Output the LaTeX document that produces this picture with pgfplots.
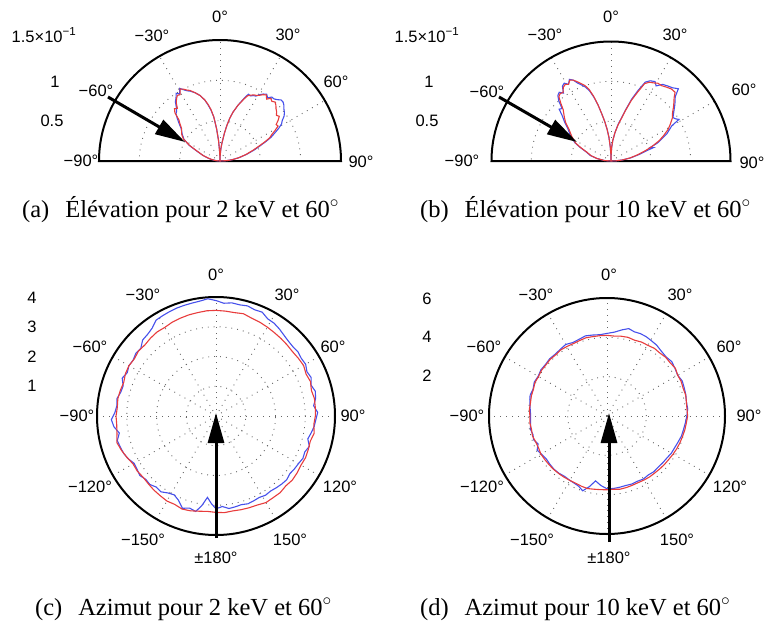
\documentclass[border=0pt]{standalone}
\usepackage{fontspec}
\setmainfont{Liberation Serif}
\newfontfamily\labfont{Liberation Sans}
\usepackage{pgfplots}
\pgfplotsset{compat=1.18}
\usetikzlibrary{arrows.meta}
\definecolor{cred}{RGB}{232,60,60}
\definecolor{cblue}{RGB}{70,80,235}
\newcommand\tickfont{\labfont\fontsize{16.5}{18}\selectfont}
\newcommand\capfont{\fontsize{24.5}{28}\selectfont}
\newcommand\tl[3]{\node[font=\tickfont,inner sep=0pt] at (#1,-#2) {#3};}
\tikzset{gridl/.style={black!60,line width=0.9pt,dash pattern=on 0.9pt off 5pt},
  bigarrow/.style={line width=3pt,-{Triangle[length=30pt,width=16pt]}}}
\pgfplotsset{polarline/.style={line width=1.1pt},
  polax/.style={anchor=center,hide axis,clip=false,xmin=-#1,xmax=#1,ymin=-#1,ymax=#1}}
\pgfkeys{/pgfplots/table/pol/.style={x expr={\thisrow{r}*sin(\thisrow{t})}, y expr={\thisrow{r}*cos(\thisrow{t})}}}
\begin{document}
\begin{tikzpicture}[x=1pt,y=1pt]
\useasboundingbox (0,0) rectangle (764,-621);
% ================= (a) =================
\begin{scope}[shift={(220,-161)}]
  \foreach \rr in {40.33,80.67} {\draw[gridl] (\rr,0) arc[start angle=0,end angle=180,radius=\rr];}
  \foreach \a in {-60,-30,0,30,60} {\draw[gridl] (0,0) -- ({121*sin(\a)},{121*cos(\a)});}
  \draw[black,line width=2pt] (-121,0) -- (121,0) arc[start angle=0,end angle=180,radius=121] -- cycle;
\end{scope}
\begin{axis}[at={(220pt,-161pt)},x=80.667pt,y=80.667pt,polax=1.5]
\addplot[cblue,polarline] table[pol] {
t r
-90 0
-85 0.05
-80 0.11
-76 0.16
-72 0.22
-67 0.31
-63 0.43
-59 0.52
-55 0.57
-50 0.63
-47 0.70
-45 0.75
-43 0.80
-41 0.82
-39 0.86
-37 0.92
-35 0.95
-33 1.00
-31 0.97
-29 1.03
-27 0.99
-25 0.96
-23 0.94
-20 0.90
-17 0.85
-14 0.78
-12 0.71
-10 0.64
-8 0.55
-6 0.40
-4 0.25
-2 0.10
0 0.0
2 0.08
4 0.15
6 0.22
9 0.35
11 0.45
13 0.55
15 0.63
18 0.73
21 0.83
23 0.90
25 0.89
27 0.91
29 0.92
31 0.96
33 0.99
35 1.01
37 0.98
39 1.02
41 1.02
43 1.04
45 1.07
47 1.07
49 1.05
51 1.02
53 1.00
55 0.97
57 0.92
59 0.89
61 0.83
63 0.76
65 0.70
67 0.62
69 0.54
72 0.45
76 0.34
80 0.24
84 0.15
87 0.08
90 0
};
\addplot[cred,polarline] table[pol] {
t r
-90 0
-85 0.05
-80 0.10
-76 0.15
-72 0.22
-67 0.30
-63 0.42
-59 0.53
-55 0.58
-50 0.62
-47 0.68
-45 0.72
-43 0.82
-41 0.86
-39 0.84
-37 0.90
-35 0.94
-33 0.97
-31 0.96
-29 1.02
-27 1.00
-25 0.97
-23 0.95
-20 0.90
-17 0.85
-14 0.78
-12 0.72
-10 0.65
-8 0.55
-6 0.40
-4 0.25
-2 0.10
0 0.0
2 0.08
4 0.15
6 0.22
9 0.35
11 0.45
13 0.55
15 0.63
18 0.73
21 0.82
23 0.88
25 0.90
27 0.92
29 0.93
31 0.95
33 0.98
35 1.00
37 0.96
39 1.00
41 0.98
43 1.00
45 0.98
47 0.95
49 0.93
51 0.90
53 0.92
55 0.88
57 0.83
59 0.84
61 0.78
63 0.72
65 0.68
67 0.60
69 0.52
72 0.43
76 0.33
80 0.24
84 0.15
87 0.08
90 0
};
\end{axis}
\draw[bigarrow] (108,-97) -- (185,-142);
\tl{220}{17}{0°}
\tl{152}{36}{−30°}
\tl{288}{35}{30°}
\tl{96}{91}{−60°}
\tl{336}{82}{60°}
\tl{81}{161}{−90°}
\tl{361}{162}{90°}
\tl{44}{35}{1.5×10\textsuperscript{−1}}
\tl{55}{82}{1}
\tl{52}{121}{0.5}
\node[anchor=base west,font=\capfont,inner sep=0pt] at (22,-217) {(a)\hspace{0.65em}Élévation pour 2 keV et 60$^\circ$};
% ================= (b) =================
\begin{scope}[shift={(611,-161)}]
  \foreach \rr in {39.83,79.67} {\draw[gridl] (\rr,0) arc[start angle=0,end angle=180,radius=\rr];}
  \foreach \a in {-60,-30,0,30,60} {\draw[gridl] (0,0) -- ({119.5*sin(\a)},{119.5*cos(\a)});}
  \draw[black,line width=2pt] (-119.5,0) -- (119.5,0) arc[start angle=0,end angle=180,radius=119.5] -- cycle;
\end{scope}
\begin{axis}[at={(611pt,-161pt)},x=79.667pt,y=79.667pt,polax=1.5]
\addplot[cblue,polarline] table[pol] {
t r
-90 0
-86 0.08
-80 0.18
-75 0.27
-70 0.33
-66 0.43
-63 0.51
-58 0.60
-53 0.68
-50 0.76
-47 0.84
-45 0.92
-43 0.90
-41 1.00
-39 1.06
-37 1.08
-35 1.04
-33 1.12
-31 1.14
-29 1.10
-27 1.15
-25 1.12
-23 1.06
-21 1.02
-19 0.98
-17 0.92
-15 0.83
-13 0.72
-11 0.60
-9 0.50
-7 0.40
-5 0.30
-3 0.18
-1 0.08
0 0
1 0.08
3 0.18
5 0.26
8 0.36
11 0.47
14 0.57
16 0.67
18.5 0.82
21 0.95
23.5 1.08
26 1.12
29 1.14
31 1.10
34 1.16
37 1.18
40 1.20
43 1.24
45 1.14
47 1.10
49 1.06
52 1.00
55 0.95
57 0.97
58.5 1.00
60 0.88
64 0.78
67 0.68
69 0.62
71 0.52
72.5 0.56
74 0.46
77 0.36
81 0.25
85 0.14
88 0.06
90 0
};
\addplot[cred,polarline] table[pol] {
t r
-90 0
-86 0.08
-80 0.18
-75 0.26
-70 0.32
-66 0.42
-63 0.50
-58 0.58
-53 0.66
-50 0.74
-47 0.80
-43 0.88
-41 0.96
-39 1.04
-37 1.06
-35 1.05
-33 1.10
-31 1.12
-29 1.10
-27 1.14
-25 1.12
-23 1.08
-21 1.04
-19 1.00
-17 0.94
-15 0.84
-13 0.72
-11 0.60
-9 0.50
-7 0.40
-5 0.30
-3 0.18
-1 0.08
0 0
1 0.08
3 0.18
5 0.26
8 0.36
11 0.46
14 0.56
16 0.66
18.5 0.80
21 0.92
23.5 1.06
26 1.10
29 1.12
31 1.14
34 1.14
37 1.16
40 1.18
43 1.18
45 1.12
47 1.08
49 1.04
52 0.98
55 0.94
58 0.88
61 0.82
64 0.74
67 0.66
70 0.56
73 0.46
77 0.34
81 0.24
85 0.14
88 0.06
90 0
};
\end{axis}
\draw[bigarrow] (499,-97) -- (577,-142);
\tl{611}{17}{0°}
\tl{545}{35}{−30°}
\tl{675}{35}{30°}
\tl{487}{92}{−60°}
\tl{744}{90}{60°}
\tl{462}{161}{−90°}
\tl{752}{163}{90°}
\tl{427}{35}{1.5×10\textsuperscript{−1}}
\tl{429}{82}{1}
\tl{427}{121}{0.5}
\node[anchor=base west,font=\capfont,inner sep=0pt] at (420,-217) {(b)\hspace{0.65em}Élévation pour 10 keV et 60$^\circ$};
% ================= (c) =================
\begin{scope}[shift={(216,-416)}]
  \foreach \rr in {29.75,59.5,89.25} {\draw[gridl] (0,0) circle[radius=\rr];}
  \foreach \a in {0,30,...,330} {\draw[gridl] (0,0) -- ({119*sin(\a)},{119*cos(\a)});}
  \draw[black,line width=2pt] (0,0) circle[radius=119];
\end{scope}
\begin{axis}[at={(216pt,-416pt)},x=29.75pt,y=29.75pt,polax=4]
\addplot[cblue,polarline] table[pol] {
t r
-180 3.12
-177 2.95
-174 2.75
-171 3.05
-168 3.28
-164 3.22
-160 3.30
-156 3.10
-152 3.00
-148 3.05
-144 3.15
-140 3.12
-136 3.20
-132 3.18
-128 3.25
-124 3.20
-120 3.18
-116 3.28
-112 3.35
-108 3.38
-104 3.42
-100 3.30
-96 3.45
-92 3.52
-88 3.40
-84 3.35
-80 3.38
-76 3.30
-72 3.28
-68 3.40
-64 3.32
-60 3.38
-56 3.36
-52 3.42
-48 3.40
-44 3.55
-40 3.58
-36 3.65
-32 3.80
-28 3.82
-24 3.84
-20 3.86
-16 3.87
-12 3.88
-8 3.90
-4 3.95
0 3.88
4 3.80
8 3.84
12 3.82
16 3.85
20 3.80
24 3.82
28 3.70
32 3.68
36 3.62
40 3.55
44 3.50
48 3.48
52 3.50
56 3.46
60 3.48
64 3.40
68 3.45
72 3.36
76 3.44
80 3.40
84 3.30
88 3.42
92 3.36
96 3.32
100 3.25
104 3.18
108 3.30
112 3.22
116 3.25
120 3.20
124 3.18
128 3.15
132 3.20
136 3.18
140 3.15
144 3.12
148 3.14
152 3.10
156 3.12
160 3.14
164 3.10
168 3.12
172 3.14
176 3.05
180 3.12
};
\addplot[cred,polarline] table[pol] {
t r
-180 3.24
-175 3.22
-170 3.25
-165 3.30
-160 3.33
-155 3.28
-150 3.30
-145 3.27
-140 3.25
-135 3.22
-130 3.20
-125 3.23
-120 3.22
-115 3.30
-110 3.38
-105 3.45
-100 3.38
-95 3.35
-90 3.36
-85 3.33
-80 3.35
-75 3.33
-70 3.30
-65 3.36
-60 3.38
-55 3.35
-50 3.40
-45 3.38
-40 3.42
-35 3.45
-30 3.44
-25 3.48
-20 3.50
-15 3.52
-10 3.53
-5 3.55
0 3.55
5 3.54
10 3.53
15 3.56
20 3.50
25 3.48
30 3.45
35 3.42
40 3.40
45 3.38
50 3.36
55 3.38
60 3.40
65 3.34
70 3.38
75 3.32
80 3.36
85 3.35
90 3.34
95 3.30
100 3.35
105 3.28
110 3.30
115 3.32
120 3.30
125 3.33
130 3.35
135 3.32
140 3.36
145 3.35
150 3.36
155 3.30
160 3.28
165 3.26
170 3.24
175 3.26
180 3.24
};
\end{axis}
\draw[bigarrow] (216,-538) -- (216,-413);
\tl{216}{275}{0°}
\tl{143}{295}{−30°}
\tl{287}{295}{30°}
\tl{90}{347}{−60°}
\tl{333}{347}{60°}
\tl{77}{416}{−90°}
\tl{353}{416}{90°}
\tl{90}{487}{−120°}
\tl{340}{487}{120°}
\tl{143}{540}{−150°}
\tl{290}{540}{150°}
\tl{216}{558}{±180°}
\tl{32}{298}{4}
\tl{32}{327}{3}
\tl{32}{357}{2}
\tl{32}{386}{1}
\node[anchor=base west,font=\capfont,inner sep=0pt] at (35,-615) {(c)\hspace{0.65em}Azimut pour 2 keV et 60$^\circ$};
% ================= (d) =================
\begin{scope}[shift={(607,-416)}]
  \foreach \rr in {39.33,78.67} {\draw[gridl] (0,0) circle[radius=\rr];}
  \foreach \a in {0,30,...,330} {\draw[gridl] (0,0) -- ({118*sin(\a)},{118*cos(\a)});}
  \draw[black,line width=2pt] (0,0) circle[radius=118];
\end{scope}
\begin{axis}[at={(607pt,-416pt)},x=19.667pt,y=19.667pt,polax=6]
\addplot[cblue,polarline] table[pol] {
t r
-180 3.70
-175 3.55
-170 3.35
-166 3.70
-162 4.00
-158 3.85
-154 3.80
-150 3.78
-145 3.75
-140 3.80
-135 3.82
-130 3.80
-125 3.78
-120 3.86
-116 3.95
-112 3.78
-108 3.92
-104 3.88
-100 3.95
-95 3.90
-90 3.88
-85 3.92
-80 3.98
-75 4.05
-70 4.00
-65 4.08
-60 4.04
-55 4.10
-50 4.08
-45 4.12
-40 4.10
-35 4.14
-30 4.20
-25 4.12
-20 4.15
-15 4.22
-10 4.18
-5 4.15
0 4.20
5 4.28
10 4.45
14 4.58
18 4.50
22 4.52
26 4.50
30 4.45
35 4.40
40 4.30
45 4.25
50 4.30
55 4.22
60 4.15
65 4.22
70 4.18
75 4.15
80 4.10
85 4.12
90 4.06
95 4.00
100 3.95
105 3.92
110 3.85
115 3.80
120 3.78
125 3.72
130 3.70
135 3.68
140 3.70
145 3.66
150 3.70
155 3.66
160 3.68
165 3.66
170 3.68
175 3.70
180 3.70
};
\addplot[cred,polarline] table[pol] {
t r
-180 3.75
-175 3.76
-170 3.78
-165 3.82
-160 3.80
-155 3.77
-150 3.78
-145 3.80
-140 3.82
-135 3.84
-130 3.85
-125 3.86
-120 3.88
-115 3.84
-110 3.86
-105 3.92
-100 3.90
-95 3.94
-90 3.92
-85 3.96
-80 3.95
-75 3.98
-70 3.98
-65 4.04
-60 4.02
-55 4.06
-50 4.05
-45 4.08
-40 4.06
-35 4.10
-30 4.08
-25 4.06
-20 4.08
-15 4.12
-10 4.10
-5 4.10
0 4.10
5 4.08
10 4.12
15 4.14
20 4.10
25 4.15
30 4.15
35 4.20
40 4.18
45 4.22
50 4.20
55 4.24
60 4.15
65 4.16
70 4.12
75 4.14
80 4.10
85 4.08
90 4.10
95 4.05
100 4.02
105 3.98
110 3.95
115 3.92
120 3.88
125 3.84
130 3.82
135 3.80
140 3.78
145 3.78
150 3.76
155 3.74
160 3.75
165 3.77
170 3.78
175 3.74
180 3.75
};
\end{axis}
\draw[bigarrow] (609,-542) -- (609,-413);
\tl{609}{275}{0°}
\tl{536}{295}{−30°}
\tl{680}{295}{30°}
\tl{484}{347}{−60°}
\tl{729}{347}{60°}
\tl{467}{416}{−90°}
\tl{749}{416}{90°}
\tl{482}{487}{−120°}
\tl{730}{487}{120°}
\tl{532}{540}{−150°}
\tl{677}{540}{150°}
\tl{609}{558}{±180°}
\tl{427}{299}{6}
\tl{427}{337}{4}
\tl{427}{376}{2}
\node[anchor=base west,font=\capfont,inner sep=0pt] at (420,-615) {(d)\hspace{0.65em}Azimut pour 10 keV et 60$^\circ$};
\end{tikzpicture}
\end{document}
